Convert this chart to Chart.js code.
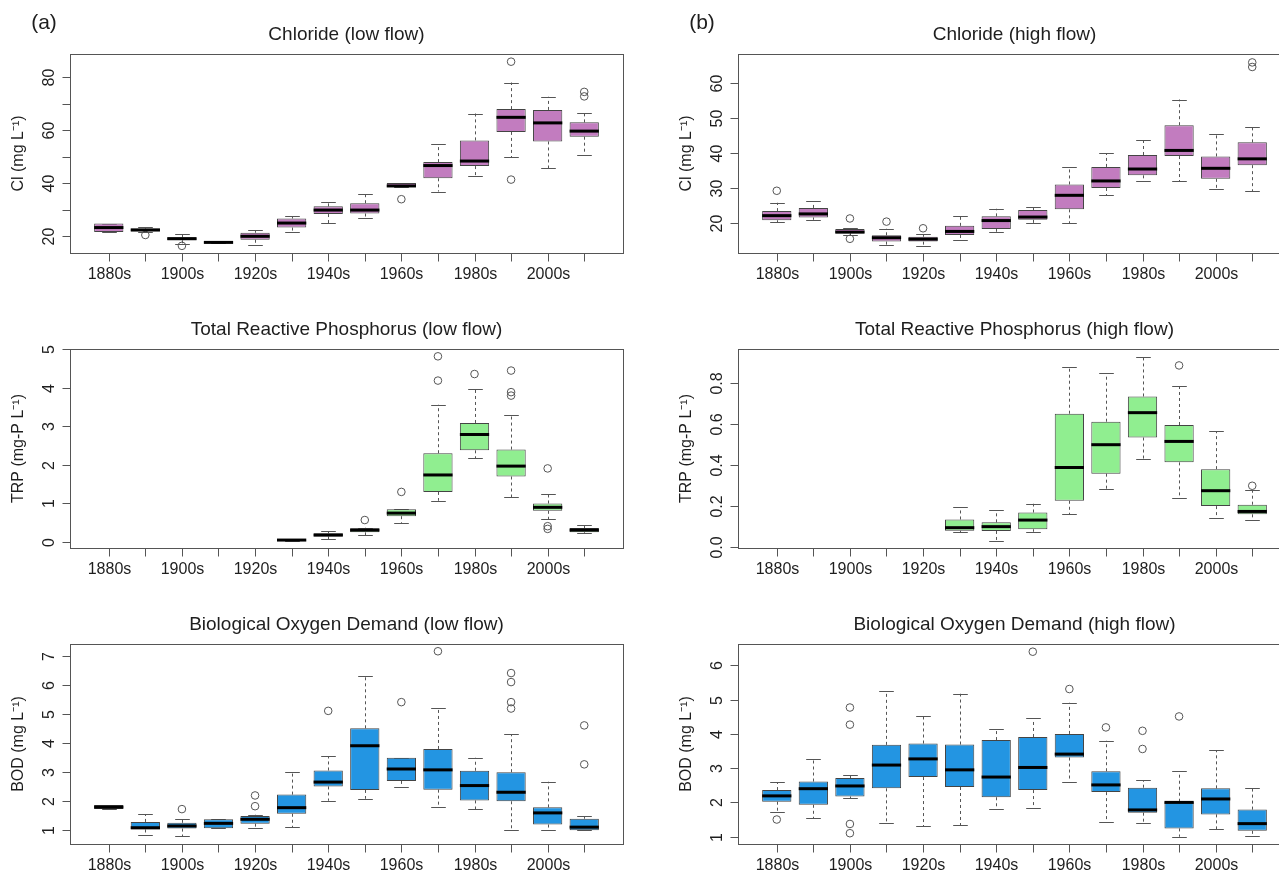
<!DOCTYPE html>
<html>
<head>
<meta charset="utf-8">
<title>Water quality by decade</title>
<script src="https://cdn.jsdelivr.net/npm/chart.js@4"></script>
<style>
  html, body { margin: 0; padding: 0; background: #fff; overflow: hidden; }
  #wrap { position: relative; width: 1279px; height: 872px; overflow: hidden; }
  canvas { position: absolute; }
</style>
</head>
<body>
<div id="wrap">
  <canvas id="clLow" width="640" height="290" style="left:0;top:0"></canvas>
  <canvas id="clHigh" width="660" height="290" style="left:640px;top:0"></canvas>
  <canvas id="trpLow" width="640" height="290" style="left:0;top:290px"></canvas>
  <canvas id="trpHigh" width="660" height="290" style="left:640px;top:290px"></canvas>
  <canvas id="bodLow" width="640" height="292" style="left:0;top:580px"></canvas>
  <canvas id="bodHigh" width="660" height="292" style="left:640px;top:580px"></canvas>
</div>
<script>
const decades = ["1880s", "1890s", "1900s", "1910s", "1920s", "1930s", "1940s",
  "1950s", "1960s", "1970s", "1980s", "1990s", "2000s", "2010s"];

// each row: [lower whisker, Q1, median, Q3, upper whisker], null = no data
const clLowStats = [
  [21.6, 21.6, 23.3, 24.8, 24.8],
  [21.6, 21.8, 22.4, 22.9, 23.4],
  [17.1, 18.5, 19.1, 19.6, 20.9],
  [17.3, 17.4, 17.7, 18.0, 18.1],
  [16.7, 18.7, 20.0, 21.3, 22.4],
  [21.6, 23.3, 25.0, 26.7, 27.5],
  [24.9, 28.4, 29.9, 31.3, 32.8],
  [26.9, 28.6, 29.9, 32.5, 36.1],
  [38.6, 38.6, 39.0, 40.1, 40.1],
  [36.9, 41.9, 46.7, 48.0, 54.8],
  [42.6, 46.5, 48.4, 56.2, 66.3],
  [49.9, 59.4, 64.9, 68.0, 78.0],
  [45.7, 55.8, 62.8, 67.7, 72.7],
  [50.8, 57.6, 59.7, 63.0, 66.4],
];
const clLowOutliers = [[], [20.5], [16.4], [], [], [], [], [], [34.0], [], [], [85.9, 41.4], [], [74.5, 72.8]];

const clHighStats = [
  [20.3, 20.8, 22.1, 23.4, 25.8],
  [20.9, 21.6, 22.6, 24.3, 26.3],
  [16.6, 17.1, 17.4, 18.3, 18.5],
  [13.7, 14.7, 15.8, 16.5, 18.4],
  [13.5, 14.7, 15.4, 16.1, 16.8],
  [15.2, 16.6, 17.6, 19.2, 22.0],
  [17.5, 18.3, 20.7, 21.9, 24.1],
  [20.0, 20.9, 21.7, 23.7, 24.6],
  [20.0, 23.9, 27.9, 31.0, 36.1],
  [27.9, 30.0, 32.0, 36.0, 40.0],
  [32.0, 33.6, 35.4, 39.4, 43.6],
  [32.0, 39.1, 40.7, 47.9, 55.2],
  [29.8, 32.6, 35.6, 39.0, 45.3],
  [29.1, 36.5, 38.3, 43.0, 47.5],
];
const clHighOutliers = [[29.2], [], [21.3, 15.5], [20.4], [18.5], [], [], [], [], [], [], [], [], [65.8, 64.5]];

const trpLowStats = [
  null, null, null, null, null,
  [0.03, 0.035, 0.05, 0.06, 0.065],
  [0.08, 0.14, 0.18, 0.225, 0.28],
  [0.17, 0.25, 0.31, 0.355, 0.37],
  [0.485, 0.67, 0.75, 0.85, 0.85],
  [1.07, 1.30, 1.74, 2.305, 3.56],
  [2.18, 2.38, 2.79, 3.09, 3.97],
  [1.16, 1.70, 1.97, 2.40, 3.29],
  [0.59, 0.81, 0.90, 1.00, 1.25],
  [0.225, 0.25, 0.31, 0.36, 0.44],
];
const trpLowOutliers = [[], [], [], [], [], [], [], [0.57], [1.30], [4.82, 4.19], [4.36], [4.45, 3.89, 3.80], [1.91, 0.41, 0.34], []];

const trpHighStats = [
  null, null, null, null, null,
  [0.075, 0.081, 0.096, 0.136, 0.195],
  [0.032, 0.080, 0.101, 0.122, 0.182],
  [0.076, 0.088, 0.133, 0.170, 0.213],
  [0.162, 0.227, 0.389, 0.651, 0.880],
  [0.282, 0.359, 0.500, 0.612, 0.847],
  [0.428, 0.535, 0.656, 0.735, 0.928],
  [0.239, 0.414, 0.516, 0.596, 0.784],
  [0.144, 0.201, 0.276, 0.381, 0.566],
  [0.133, 0.161, 0.175, 0.208, 0.277],
];
const trpHighOutliers = [[], [], [], [], [], [], [], [], [], [], [], [0.886], [], [0.300]];

const bodLowStats = [
  [1.73, 1.73, 1.80, 1.87, 1.87],
  [0.83, 1.03, 1.09, 1.29, 1.55],
  [0.79, 1.06, 1.15, 1.26, 1.40],
  [1.07, 1.07, 1.24, 1.38, 1.38],
  [1.07, 1.23, 1.38, 1.49, 1.54],
  [1.10, 1.57, 1.78, 2.23, 3.00],
  [2.02, 2.51, 2.66, 3.06, 3.56],
  [2.09, 2.39, 3.91, 4.51, 6.31],
  [2.50, 2.70, 3.11, 3.50, 3.50],
  [1.79, 2.40, 3.08, 3.80, 5.21],
  [1.73, 2.03, 2.54, 3.05, 3.50],
  [1.00, 2.00, 2.31, 3.00, 4.30],
  [1.00, 1.20, 1.60, 1.79, 2.67],
  [1.00, 1.00, 1.11, 1.40, 1.49],
];
const bodLowOutliers = [[], [], [1.73], [], [2.20, 1.83], [], [5.11], [], [5.41], [7.16], [], [6.41, 6.10, 5.41, 5.19], [], [4.61, 3.27]];

const bodHighStats = [
  [1.73, 2.02, 2.19, 2.36, 2.59],
  [1.53, 1.93, 2.40, 2.61, 3.26],
  [2.12, 2.17, 2.48, 2.71, 2.81],
  [1.41, 2.41, 3.09, 3.68, 5.26],
  [1.30, 2.74, 3.27, 3.72, 4.53],
  [1.34, 2.45, 2.95, 3.69, 5.17],
  [1.81, 2.15, 2.74, 3.82, 4.14],
  [1.84, 2.36, 3.02, 3.91, 4.46],
  [2.61, 3.31, 3.41, 4.00, 4.91],
  [1.43, 2.30, 2.51, 2.91, 3.80],
  [1.41, 1.70, 1.78, 2.43, 2.64],
  [1.00, 1.24, 2.00, 2.02, 2.91],
  [1.21, 1.65, 2.10, 2.41, 3.52],
  [1.01, 1.17, 1.38, 1.79, 2.41],
];
const bodHighOutliers = [[1.50], [], [4.77, 4.27, 1.37, 1.10], [], [], [], [], [6.40], [5.31], [4.19], [4.09, 3.56], [4.51], [], []];

// y axis ticks (all get a tick mark) and the ones that carry a label
const clLowTicks = [20, 30, 40, 50, 60, 70, 80];
const clLowTickLabels = [20, 40, 60, 80];
const clHighTicks = [20, 30, 40, 50, 60];
const trpLowTicks = [0, 1, 2, 3, 4, 5];
const trpHighTicks = [0, 0.2, 0.4, 0.6, 0.8];
const bodLowTicks = [1, 2, 3, 4, 5, 6, 7];
const bodHighTicks = [1, 2, 3, 4, 5, 6];

const PURPLE = "#c27cbf";
const GREEN = "#90ee90";
const BLUE = "#2395e2";
const LINE = "#555";
const TEXT = "#1e1e1e";
const FONT = "'Liberation Sans', Arial, Helvetica, sans-serif";
const PLOT_W = 553;
const X_MIN = -0.06, X_MAX = 15.06;

const panels = [
  { id: "clLow", stats: clLowStats, outliers: clLowOutliers, yMin: 13.7, yMax: 88.8,
    ticks: clLowTicks, tickLabels: clLowTickLabels, fmt: (v) => String(v), fill: PURPLE,
    title: "Chloride (low flow)", yTitle: "Cl (mg L\u207B\u00B9)", tag: "(a)", side: "left", row: 0 },
  { id: "clHigh", stats: clHighStats, outliers: clHighOutliers, yMin: 11.45, yMax: 68.2,
    ticks: clHighTicks, tickLabels: clHighTicks, fmt: (v) => String(v), fill: PURPLE,
    title: "Chloride (high flow)", yTitle: "Cl (mg L\u207B\u00B9)", tag: "(b)", side: "right", row: 0 },
  { id: "trpLow", stats: trpLowStats, outliers: trpLowOutliers, yMin: -0.156, yMax: 5.01,
    ticks: trpLowTicks, tickLabels: trpLowTicks, fmt: (v) => String(v), fill: GREEN,
    title: "Total Reactive Phosphorus (low flow)", yTitle: "TRP (mg-P L\u207B\u00B9)", side: "left", row: 1 },
  { id: "trpHigh", stats: trpHighStats, outliers: trpHighOutliers, yMin: -0.003, yMax: 0.966,
    ticks: trpHighTicks, tickLabels: trpHighTicks, fmt: (v) => v.toFixed(1), fill: GREEN,
    title: "Total Reactive Phosphorus (high flow)", yTitle: "TRP (mg-P L\u207B\u00B9)", side: "right", row: 1 },
  { id: "bodLow", stats: bodLowStats, outliers: bodLowOutliers, yMin: 0.53, yMax: 7.41,
    ticks: bodLowTicks, tickLabels: bodLowTicks, fmt: (v) => String(v), fill: BLUE,
    title: "Biological Oxygen Demand (low flow)", yTitle: "BOD (mg L\u207B\u00B9)", side: "left", row: 2 },
  { id: "bodHigh", stats: bodHighStats, outliers: bodHighOutliers, yMin: 0.785, yMax: 6.625,
    ticks: bodHighTicks, tickLabels: bodHighTicks, fmt: (v) => String(v), fill: BLUE,
    title: "Biological Oxygen Demand (high flow)", yTitle: "BOD (mg L\u207B\u00B9)", side: "right", row: 2 },
];

// plot-area offsets inside each canvas
const rowPad = [
  { top: 54, bottom: 37 },
  { top: 59, bottom: 32 },
  { top: 64, bottom: 28 },
];
const sidePad = { left: { left: 70, right: 17 }, right: { left: 98, right: 9 } };

function seg(ctx, x1, y1, x2, y2) {
  ctx.beginPath();
  ctx.moveTo(x1, y1);
  ctx.lineTo(x2, y2);
  ctx.stroke();
}

const boxplotPlugin = {
  id: "boxplot",
  beforeDatasetsDraw(chart, args, opts) {
    const { ctx, scales: { x, y } } = chart;
    const p = opts.panel;
    const staple = (x.getPixelForValue(1.2) - x.getPixelForValue(1));
    ctx.save();
    ctx.strokeStyle = LINE;
    ctx.lineWidth = 1;
    p.stats.forEach((s, i) => {
      if (!s) return;
      const cx = Math.round(x.getPixelForValue(i + 1)) + 0.5;
      ctx.setLineDash([3, 3]);
      if (s[4] > s[3]) seg(ctx, cx, y.getPixelForValue(s[3]), cx, y.getPixelForValue(s[4]));
      if (s[0] < s[1]) seg(ctx, cx, y.getPixelForValue(s[1]), cx, y.getPixelForValue(s[0]));
      ctx.setLineDash([]);
      const yh = Math.round(y.getPixelForValue(s[4])) + 0.5;
      const yl = Math.round(y.getPixelForValue(s[0])) + 0.5;
      seg(ctx, cx - staple, yh, cx + staple, yh);
      seg(ctx, cx - staple, yl, cx + staple, yl);
    });
    ctx.restore();
  },
  afterDatasetsDraw(chart, args, opts) {
    const { ctx, scales: { x, y } } = chart;
    const p = opts.panel;
    const half = (x.getPixelForValue(1.4) - x.getPixelForValue(1));
    ctx.save();
    ctx.strokeStyle = "#000";
    ctx.lineWidth = 3;
    p.stats.forEach((s, i) => {
      if (!s) return;
      const cx = x.getPixelForValue(i + 1);
      const ym = y.getPixelForValue(s[2]);
      seg(ctx, cx - half, ym, cx + half, ym);
    });
    ctx.restore();
  },
  afterDraw(chart, args, opts) {
    const { ctx, chartArea: a, scales: { x, y } } = chart;
    const p = opts.panel;
    ctx.save();
    ctx.strokeStyle = LINE;
    ctx.lineWidth = 1;
    ctx.strokeRect(Math.round(a.left) + 0.5, Math.round(a.top) + 0.5,
      Math.round(a.right - a.left), Math.round(a.bottom - a.top));

    // x axis
    ctx.fillStyle = TEXT;
    ctx.font = "16px " + FONT;
    ctx.textAlign = "center";
    ctx.textBaseline = "middle";
    const by = Math.round(a.bottom) + 0.5;
    decades.forEach((d, i) => {
      const px = Math.round(x.getPixelForValue(i + 1)) + 0.5;
      seg(ctx, px, by, px, by + 8);
      if (i % 2 === 0) ctx.fillText(d, px, a.bottom + 22);
    });

    // y axis
    const lx = Math.round(a.left) + 0.5;
    p.ticks.forEach((v) => {
      const py = Math.round(y.getPixelForValue(v)) + 0.5;
      seg(ctx, lx, py, lx - 8, py);
      if (p.tickLabels.includes(v)) {
        ctx.save();
        ctx.translate(a.left - 20, py);
        ctx.rotate(-Math.PI / 2);
        ctx.fillText(p.fmt(v), 0, 0);
        ctx.restore();
      }
    });
    ctx.save();
    ctx.translate(a.left - 51, (a.top + a.bottom) / 2);
    ctx.rotate(-Math.PI / 2);
    ctx.fillText(p.yTitle, 0, 0);
    ctx.restore();

    // title and panel tag
    ctx.font = "19px " + FONT;
    ctx.fillText(p.title, (a.left + a.right) / 2, a.top - 19);
    if (p.tag) {
      ctx.font = "21px " + FONT;
      ctx.fillText(p.tag, p.side === "left" ? 44 : 62, 23);
    }
    ctx.restore();
  },
};

panels.forEach((p) => {
  const pad = Object.assign({}, rowPad[p.row], sidePad[p.side]);
  const boxes = [];
  const points = [];
  p.stats.forEach((s, i) => {
    if (s) boxes.push({ x: i + 1, y: [s[1], s[3]] });
    p.outliers[i].forEach((v) => points.push({ x: i + 1, y: v }));
  });

  new Chart(document.getElementById(p.id), {
    type: "bar",
    data: {
      datasets: [
        {
          type: "bar",
          data: boxes,
          backgroundColor: p.fill,
          borderColor: "#444",
          borderWidth: 1,
          borderSkipped: false,
          inflateAmount: 0,
          barThickness: (0.8 * PLOT_W) / (X_MAX - X_MIN),
          grouped: false,
        },
        {
          type: "scatter",
          data: points,
          pointStyle: "circle",
          pointRadius: 3.8,
          pointBorderWidth: 1,
          pointBorderColor: LINE,
          pointBackgroundColor: "rgba(0,0,0,0)",
          showLine: false,
        },
      ],
    },
    options: {
      responsive: false,
      animation: false,
      events: [],
      layout: { padding: pad },
      scales: {
        x: { type: "linear", min: X_MIN, max: X_MAX, offset: false, display: false },
        y: { type: "linear", min: p.yMin, max: p.yMax, display: false },
      },
      plugins: {
        legend: { display: false },
        tooltip: { enabled: false },
        boxplot: { panel: p },
      },
    },
    plugins: [boxplotPlugin],
  });
});
</script>
</body>
</html>
